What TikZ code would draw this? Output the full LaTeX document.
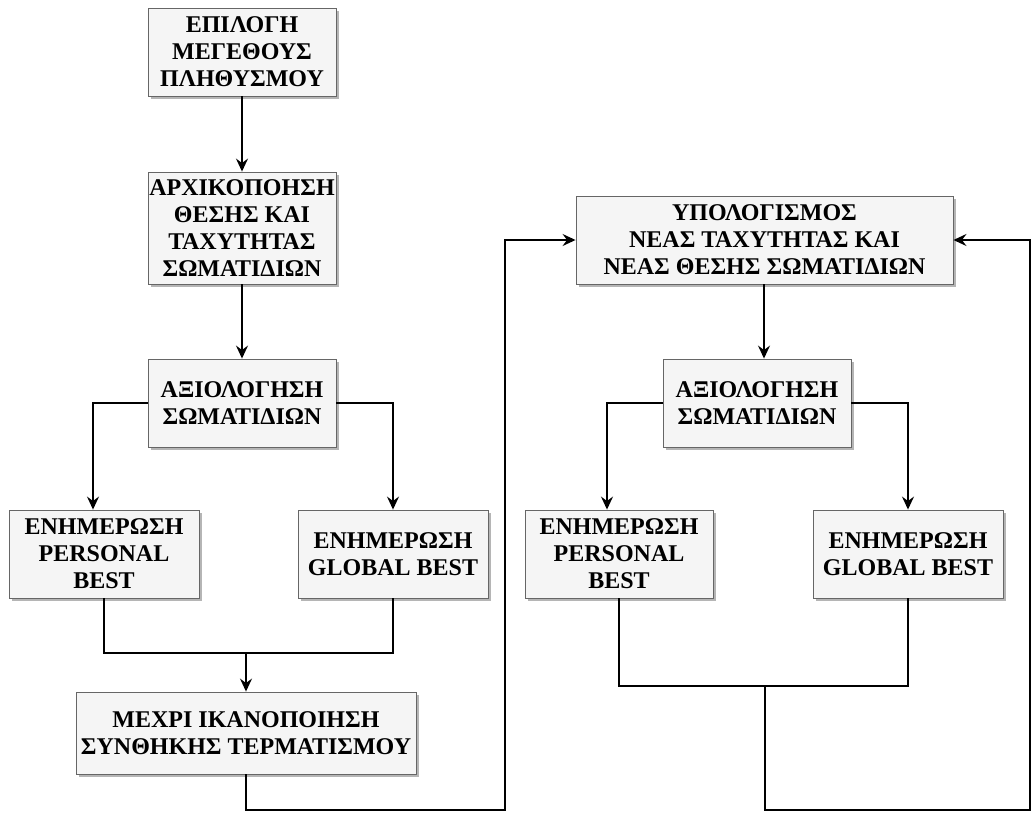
\documentclass[tikz,border=0pt]{standalone}
\usepackage{fontspec}
\setmainfont{Liberation Serif}
\usepackage{tikz}
\usetikzlibrary{arrows.meta,shadows}

\begin{document}
\begin{tikzpicture}[x=1pt,y=1pt,yscale=-1,xscale=1,
  stepbox/.style={draw={rgb, 255:red, 102; green, 102; blue, 102 }, fill={rgb, 255:red, 245; green, 245; blue, 245 }, line width=0.9pt,
    align=center, inner sep=0pt, minimum height=88, font=\fontsize{24}{27}\selectfont\bfseries,
    drop shadow={shadow xshift=2.5pt, shadow yshift=-2.5pt, fill={rgb, 255:red, 150; green, 150; blue, 150 }, opacity=0.7}},
  link/.style={line width=1.6pt},
  flow/.style={link, -{Stealth[length=13pt,width=12pt,inset=4.5pt]}}]
%set diagram to the page size
\path[use as bounding box] (0,0) rectangle (1034,812);

%Shape: Rectangle
\node[stepbox, minimum width=188] (size) at (242,52) {ΕΠΙΛΟΓΗ\\ΜΕΓΕΘΟΥΣ\\ΠΛΗΘΥΣΜΟΥ};
%Shape: Rectangle
\node[stepbox, minimum width=188, minimum height=112] (init) at (242,228) {ΑΡΧΙΚΟΠΟΗΣΗ\\ΘΕΣΗΣ ΚΑΙ\\ΤΑΧΥΤΗΤΑΣ\\ΣΩΜΑΤΙΔΙΩΝ};
%Shape: Rectangle
\node[stepbox, minimum width=188] (evalA) at (242,403) {ΑΞΙΟΛΟΓΗΣΗ\\ΣΩΜΑΤΙΔΙΩΝ};
%Shape: Rectangle
\node[stepbox, minimum width=190] (pbA) at (104,554) {ΕΝΗΜΕΡΩΣΗ\\PERSONAL\\BEST};
%Shape: Rectangle
\node[stepbox, minimum width=190] (gbA) at (393,554) {ΕΝΗΜΕΡΩΣΗ\\GLOBAL BEST};
%Shape: Rectangle
\node[stepbox, minimum width=340, minimum height=82] (stop) at (246,733) {ΜΕΧΡΙ ΙΚΑΝΟΠΟΙΗΣΗ\\ΣΥΝΘΗΚΗΣ ΤΕΡΜΑΤΙΣΜΟΥ};
%Shape: Rectangle
\node[stepbox, minimum width=377] (upd) at (764.5,240) {ΥΠΟΛΟΓΙΣΜΟΣ\\ΝΕΑΣ ΤΑΧΥΤΗΤΑΣ ΚΑΙ\\ΝΕΑΣ ΘΕΣΗΣ ΣΩΜΑΤΙΔΙΩΝ};
%Shape: Rectangle
\node[stepbox, minimum width=188] (evalB) at (757,403) {ΑΞΙΟΛΟΓΗΣΗ\\ΣΩΜΑΤΙΔΙΩΝ};
%Shape: Rectangle
\node[stepbox, minimum width=188] (pbB) at (619,554) {ΕΝΗΜΕΡΩΣΗ\\PERSONAL\\BEST};
%Shape: Rectangle
\node[stepbox, minimum width=190] (gbB) at (908,554) {ΕΝΗΜΕΡΩΣΗ\\GLOBAL BEST};

%Corner points of the loops
\coordinate (joinA) at (246,653);
\coordinate (joinB) at (765,686);
\coordinate (loopA) at (505,810);
\coordinate (loopB) at (1030,810);

%Straight Lines
\draw[flow] (size) -- (init);
\draw[flow] (init) -- (evalA);
\draw[flow] (evalA.west) -| ([xshift=-11pt]pbA.north);
\draw[flow] (evalA.east) -| (gbA.north);
\draw[link] (pbA.south) |- (joinA) -| (gbA.south);
\draw[flow] (joinA) -- (stop.north);
\draw[flow] (stop.south) |- (loopA) |- (upd.west);

%Straight Lines
\draw[flow] ([xshift=-0.5pt]upd.south) -- ([xshift=-0.5pt]upd.south |- evalB.north);
\draw[flow] (evalB.west) -| ([xshift=-12pt]pbB.north);
\draw[flow] (evalB.east) -| (gbB.north);
\draw[link] (pbB.south) |- (joinB) -| (gbB.south);
\draw[flow] (joinB) |- (loopB) |- (upd.east);

\end{tikzpicture}
\end{document}
